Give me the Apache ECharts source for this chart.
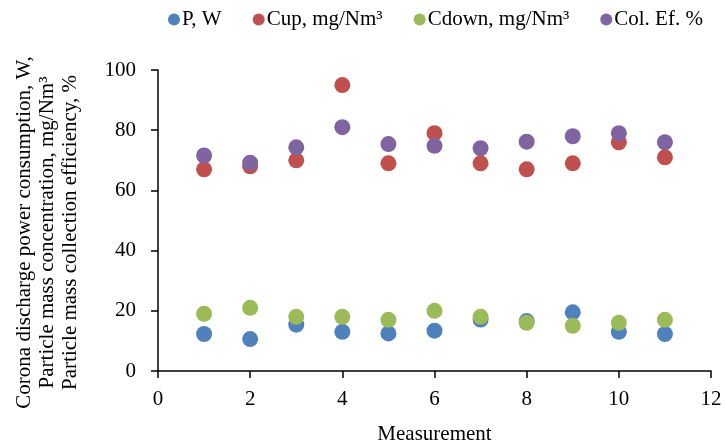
<!DOCTYPE html>
<html>
<head>
<meta charset="utf-8">
<script src="https://cdn.jsdelivr.net/npm/echarts@6/dist/echarts.min.js"></script>
<style>
  html, body { margin: 0; padding: 0; background: #fff; }
  #main { width: 726px; height: 447px; }
</style>
</head>
<body>
<div id="main"></div>
<script>
// measurement numbers
var measurements = [1, 2, 3, 4, 5, 6, 7, 8, 9, 10, 11];
var powerW = [12.3, 10.6, 15.4, 13, 12.5, 13.4, 17.1, 16.6, 19.5, 13, 12.3];
var cUp = [67, 68, 70, 95, 69, 79, 69, 67, 69, 76, 71];
var cDown = [19, 21, 18, 18, 17, 20, 18, 16, 15, 16, 17];
var colEf = [71.6, 69.2, 74.3, 81, 75.4, 74.8, 74, 76.2, 78, 79, 76];

var seriesNames = ["P, W", "Cup, mg/Nm³", "Cdown, mg/Nm³", "Col. Ef. %"];
var colors = ["#4F81BD", "#C0504D", "#9BBB59", "#8064A2"];

function pairs(arr) {
  return measurements.map(function (m, i) { return [m, arr[i]]; });
}

var font = "Liberation Serif";
var myEchart = echarts.init(document.getElementById("main"));
var option = {
  animation: false,
  color: colors,
  textStyle: { fontFamily: font, color: "#000" },
  legend: {
    top: 4,
    left: 163,
    itemWidth: 12,
    itemHeight: 12,
    itemGap: 31,
    icon: "circle",
    textStyle: { fontFamily: font, fontSize: 21, color: "#000", padding: [0, 0, 0, -3] },
    data: seriesNames,
  },
  grid: {
    left: 158,
    right: 15,
    top: 70,
    bottom: 76,
    outerBoundsMode: "none",
    containLabel: false,
  },
  xAxis: {
    type: "value",
    min: 0,
    max: 12,
    interval: 2,
    name: "Measurement",
    nameLocation: "middle",
    nameGap: 53,
    nameTextStyle: { fontFamily: font, fontSize: 21, color: "#000" },
    axisLine: { lineStyle: { color: "#000", width: 1.5 } },
    axisTick: { show: true, length: 7, lineStyle: { color: "#000", width: 1.5 } },
    axisLabel: { fontFamily: font, fontSize: 21, color: "#000", margin: 18 },
    splitLine: { show: false },
  },
  yAxis: {
    type: "value",
    min: 0,
    max: 100,
    interval: 20,
    name: "Corona discharge power consumption, W,\nParticle mass concentration, mg/Nm³\nParticle mass collection efficiency, %",
    nameLocation: "middle",
    nameGap: 76,
    // pushes the rotated title a little below the plot's middle, as in the picture
    nameTextStyle: { fontFamily: font, fontSize: 21, color: "#000", lineHeight: 23, padding: [0, 24, 0, 0] },
    axisLine: { show: true, lineStyle: { color: "#000", width: 1.5 } },
    axisTick: { show: true, length: 7, lineStyle: { color: "#000", width: 1.5 } },
    axisLabel: { fontFamily: font, fontSize: 21, color: "#000", margin: 22 },
    splitLine: { show: false },
  },
  series: [
    { name: seriesNames[0], type: "scatter", symbolSize: 16, itemStyle: { opacity: 1 }, data: pairs(powerW) },
    { name: seriesNames[1], type: "scatter", symbolSize: 16, itemStyle: { opacity: 1 }, data: pairs(cUp) },
    { name: seriesNames[2], type: "scatter", symbolSize: 16, itemStyle: { opacity: 1 }, data: pairs(cDown) },
    { name: seriesNames[3], type: "scatter", symbolSize: 16, itemStyle: { opacity: 1 }, data: pairs(colEf) },
  ],
};
option && myEchart.setOption(option);
</script>
</body>
</html>
